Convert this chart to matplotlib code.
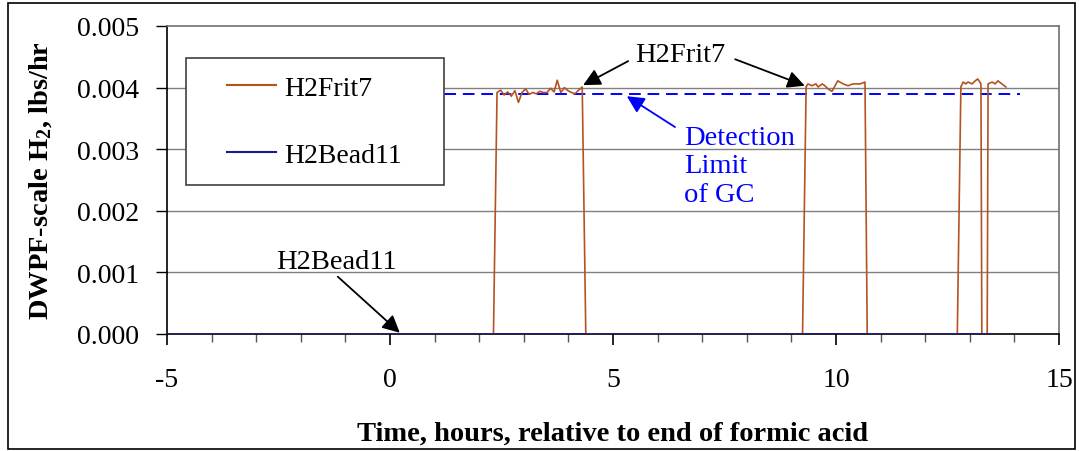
import matplotlib
matplotlib.use("Agg")
import matplotlib.pyplot as plt
from matplotlib.lines import Line2D
from matplotlib.patches import Rectangle
from matplotlib.ticker import MultipleLocator

plt.rcParams['font.family'] = ['Liberation Serif', 'DejaVu Serif']
plt.rcParams['mathtext.fontset'] = 'custom'
plt.rcParams['mathtext.rm'] = 'Liberation Serif:bold'
plt.rcParams['mathtext.it'] = 'Liberation Serif:italic:bold'
plt.rcParams['mathtext.bf'] = 'Liberation Serif:bold'

# ---------------- data ----------------
frit_t = [-5.0, 2.32,
          2.40, 2.48, 2.56, 2.64, 2.72, 2.80, 2.88, 2.96, 3.04, 3.12, 3.20, 3.28,
          3.36, 3.44, 3.52, 3.60, 3.68, 3.75, 3.83, 3.91, 3.99, 4.07, 4.15, 4.23, 4.31,
          4.39, 9.25,
          9.33, 9.37, 9.46, 9.55, 9.60, 9.69, 9.75, 9.82, 9.91, 10.04, 10.16, 10.27,
          10.38, 10.54, 10.65,
          10.70, 12.72,
          12.80, 12.85, 12.91, 12.96, 13.05, 13.12, 13.18, 13.25,
          13.27, 13.39,
          13.41, 13.50, 13.57, 13.63, 13.72, 13.81]
frit_v = [0.0, 0.0,
          0.00392, 0.00396, 0.00388, 0.00393, 0.00386, 0.00395, 0.00376, 0.00392,
          0.00398, 0.00389, 0.00392, 0.00390, 0.00394, 0.00392, 0.00392, 0.00399,
          0.00393, 0.00412, 0.00392, 0.00400, 0.00395, 0.00392, 0.00390, 0.00396, 0.00401,
          0.0, 0.0,
          0.00401, 0.00406, 0.00403, 0.00406, 0.00401, 0.00406, 0.00403, 0.00398,
          0.00394, 0.00411, 0.00406, 0.00403, 0.00406, 0.00406, 0.00409,
          0.0, 0.0,
          0.00401, 0.00409, 0.00406, 0.00409, 0.00406, 0.00411, 0.00414, 0.00406,
          0.0, 0.0,
          0.00406, 0.00409, 0.00406, 0.00411, 0.00406, 0.00401]

bead_t = [-5.0, 0.0, 5.0, 10.0, 13.52]
bead_v = [0.0, 0.0, 0.0, 0.0, 0.0]

det_t = [-0.85, 14.13]
det_v = [0.0039, 0.0039]

series_labels = ["H2Frit7", "H2Bead11"]
xticks = [-5, 0, 5, 10, 15]
yticks = [0.000, 0.001, 0.002, 0.003, 0.004, 0.005]
ytick_labels = ["0.000", "0.001", "0.002", "0.003", "0.004", "0.005"]

FRIT_C = '#B4531F'
BEAD_C = '#1A1A8C'
DET_C = '#0000FF'

fig = plt.figure(figsize=(10.79, 4.52), dpi=100)
ax = fig.add_axes([167/1079, 1 - 335/452, (1059-167)/1079, (335-27)/452])

for y in yticks[1:5]:
    ax.axhline(y, color='#808080', lw=1.0, zorder=1)

ax.plot(frit_t, frit_v, color=FRIT_C, lw=1.2, zorder=3)
ax.plot(bead_t, bead_v, color=BEAD_C, lw=1.3, zorder=4)
ax.plot(det_t, det_v, color=DET_C, lw=1.4, ls=(0, (6, 3.5)), zorder=2)

ax.set_xlim(-5, 15)
ax.set_ylim(0, 0.005)
ax.set_xticks(xticks)
ax.set_xticklabels([str(x) for x in xticks])
ax.xaxis.set_minor_locator(MultipleLocator(1))
ax.set_yticks(yticks)
ax.set_yticklabels(ytick_labels)
ax.tick_params(axis='x', which='major', direction='out', length=8, width=1.2, pad=16, labelsize=20)
ax.tick_params(axis='x', which='minor', direction='out', length=6, width=1.0, color='#555555')
ax.tick_params(axis='y', which='major', direction='out', length=8, width=1.0, pad=12, labelsize=20)

for s in ['left', 'bottom']:
    ax.spines[s].set_color('black')
    ax.spines[s].set_linewidth(1.2)
for s in ['top', 'right']:
    ax.spines[s].set_color('#707070')
    ax.spines[s].set_linewidth(1.2)

ax.set_xlabel("Time, hours, relative to end of formic acid", fontsize=20.5, fontweight='bold')
ax.xaxis.set_label_coords(0.5, -0.282)
ax.set_ylabel("DWPF-scale H$_2$, lbs/hr", fontsize=20.5, fontweight='bold')
ax.yaxis.set_label_coords(-0.127, 0.5)

handles = [Line2D([], [], color=FRIT_C, lw=1.5), Line2D([], [], color=BEAD_C, lw=1.5)]
leg = ax.legend(handles, series_labels, loc='upper left', mode='expand',
                bbox_to_anchor=(19/892, (335-182)/308, (444-186)/892, (182-59)/308),
                borderaxespad=0,
                fontsize=20, frameon=True, fancybox=False, edgecolor='#404040',
                framealpha=1, labelspacing=1.5, borderpad=0.62,
                handlelength=2.63, handletextpad=0.29)
leg.get_frame().set_linewidth(1.2)
leg.set_zorder(10)
for ln in leg.get_lines():
    xd = list(ln.get_xdata())
    x0 = xd[0]
    ln.set_xdata([x0 + 0.33 * (xd[-1] - x0) + 0.67 * (xi - x0) for xi in xd])

# annotations
ax.text(6.5, 0.00454, "H2Frit7", fontsize=20.5, ha='center', va='center')
arrow_kw = dict(arrowstyle='-|>', color='black', lw=1.3, mutation_scale=26,
                shrinkA=0, shrinkB=0)
ax.annotate('', xy=(4.33, 0.00404), xytext=(5.34, 0.00443), arrowprops=arrow_kw)
ax.annotate('', xy=(9.30, 0.00403), xytext=(7.74, 0.00446), arrowprops=arrow_kw)

ax.text(6.59, 0.00273, "Detection\nLimit\nof GC", fontsize=20.5, color=DET_C,
        ha='left', va='center', linespacing=1.18)
det_kw = dict(arrowstyle='-|>', color=DET_C, lw=1.3, mutation_scale=26,
              shrinkA=0, shrinkB=0)
ax.annotate('', xy=(5.31, 0.00386), xytext=(6.39, 0.00336), arrowprops=det_kw)

ax.text(-1.19, 0.00118, "H2Bead11", fontsize=20.5, ha='center', va='center')
ax.annotate('', xy=(0.22, 0.00002), xytext=(-1.17, 0.00093), arrowprops=arrow_kw)

fig.add_artist(Rectangle((8/1079, 2/452), (1075-8)/1079, (449-3)/452,
                         transform=fig.transFigure, fill=False,
                         edgecolor='black', lw=1.2))

fig.savefig("out.png", dpi=100)
